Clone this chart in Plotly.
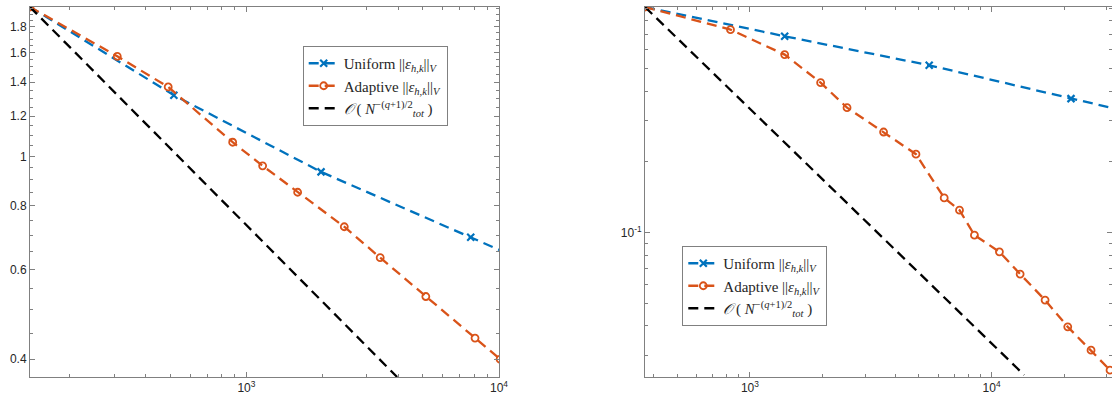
import plotly.graph_objects as go

# ---- data ----
left_uniform_N = [139, 516, 1974, 7727, 30800]
left_uniform_err = [1.967, 1.32, 0.933, 0.694, 0.514]
left_adapt_N = [139, 308, 490, 882, 1159, 1595, 2440, 3385, 5132, 8037, 10100]
left_adapt_err = [1.967, 1.574, 1.370, 1.067, 0.959, 0.851, 0.728, 0.633, 0.531, 0.440, 0.400]
left_ref_N = [139, 3950]
left_ref_err = [1.967, 0.369]

right_uniform_N = [368, 1392, 5516, 21300, 84000]
right_uniform_err = [0.914, 0.686, 0.516, 0.372, 0.268]
right_adapt_N = [368, 831, 1392, 1961, 2522, 3572, 4863, 6364, 7363, 8489,
                 10770, 13120, 16640, 20650, 25780, 30900]
right_adapt_err = [0.914, 0.732, 0.573, 0.435, 0.3405, 0.268, 0.2156, 0.1404, 0.1245,
                   0.0974, 0.0827, 0.0665, 0.0515, 0.0396, 0.0315, 0.0259]
right_ref_N = [368, 13630]
right_ref_err = [0.914, 0.0247]

labels = ["Uniform ||<i>ε</i><sub><i>h,k</i></sub>||<sub><i>V</i></sub>",
          "Adaptive ||<i>ε</i><sub><i>h,k</i></sub>||<sub><i>V</i></sub>",
          "<i>𝒪</i> ( <i>N</i><sup>−(<i>q</i>+1)/2</sup><sub><i>tot</i></sub> )"]

x_major_vals = [1e3, 1e4]
x_major_text = ["10<sup>3</sup>", "10<sup>4</sup>"]
left_y_vals = [0.4, 0.6, 0.8, 1, 1.2, 1.4, 1.6, 1.8]
left_y_text = ["0.4", "0.6", "0.8", "1", "1.2", "1.4", "1.6", "1.8"]
right_y_vals = [0.1]
right_y_text = ["10<sup>-1</sup>"]

BLUE = "#0072BD"
ORANGE = "#D95319"
DASH = "10px,6px"
SERIF = "Liberation Serif"

W, H = 1112, 404
fig = go.Figure()

def add_set(xa, ya, legend, uN, uE, aN, aE, rN, rE):
    fig.add_trace(go.Scatter(x=uN, y=uE, mode="lines+markers", name=labels[0],
                             xaxis=xa, yaxis=ya, legend=legend,
                             line=dict(color=BLUE, width=2.3, dash=DASH),
                             marker=dict(symbol="x-thin", size=7, line=dict(color=BLUE, width=2.2))))
    fig.add_trace(go.Scatter(x=aN, y=aE, mode="lines+markers", name=labels[1],
                             xaxis=xa, yaxis=ya, legend=legend,
                             line=dict(color=ORANGE, width=2.3, dash=DASH),
                             marker=dict(symbol="circle-open", size=7, color=ORANGE,
                                         line=dict(color=ORANGE, width=1.8))))
    fig.add_trace(go.Scatter(x=rN, y=rE, mode="lines", name=labels[2],
                             xaxis=xa, yaxis=ya, legend=legend,
                             line=dict(color="black", width=2.3, dash=DASH)))

add_set("x", "y", "legend", left_uniform_N, left_uniform_err, left_adapt_N, left_adapt_err,
        left_ref_N, left_ref_err)
add_set("x2", "y2", "legend2", right_uniform_N, right_uniform_err, right_adapt_N, right_adapt_err,
        right_ref_N, right_ref_err)

tickfont = dict(family="Liberation Sans, Arial, sans-serif", size=12, color="#262626")
axis_common = dict(type="log", showline=True, linecolor="#808080", linewidth=1, mirror="allticks",
                   ticks="inside", ticklen=5, tickcolor="#808080", showgrid=False, zeroline=False,
                   tickfont=tickfont, automargin=False)

minor_lx = [200, 300, 400, 500, 600, 700, 800, 900, 2000, 3000, 4000, 5000, 6000, 7000, 8000, 9000]
minor_ly = [round(0.4 + 0.05 * i, 2) for i in range(32)]
minor_rx = [400, 500, 600, 700, 800, 900, 2000, 3000, 4000, 5000, 6000, 7000, 8000, 9000, 20000, 30000]
minor_ry = [0.03, 0.04, 0.05, 0.06, 0.07, 0.08, 0.09, 0.2, 0.3, 0.4, 0.5, 0.6, 0.7, 0.8, 0.9]

def minor(vals):
    return dict(tickvals=vals, ticks="inside", ticklen=3, tickcolor="#808080")

legend_font = dict(family=SERIF, size=15, color="#262626")

fig.update_layout(
    width=W, height=H, margin=dict(l=0, r=0, t=0, b=0),
    paper_bgcolor="white", plot_bgcolor="white",
    xaxis=dict(domain=[30 / W, 499 / W], range=[2.143, 4.0], tickvals=x_major_vals,
               ticktext=x_major_text, minor=minor(minor_lx), anchor="y", **axis_common),
    yaxis=dict(domain=[27 / H, 397 / H], range=[-0.433, 0.2938], tickvals=left_y_vals,
               ticktext=left_y_text, minor=minor(minor_ly), anchor="x", **axis_common),
    xaxis2=dict(domain=[645 / W, 1.0], range=[2.5658, 4.498], tickvals=x_major_vals,
                ticktext=x_major_text, minor=minor(minor_rx), anchor="y2", **axis_common),
    yaxis2=dict(domain=[27 / H, 397 / H], range=[-1.616, -0.039], tickvals=right_y_vals,
                ticktext=right_y_text, minor=minor(minor_ry), anchor="x2", **axis_common),
    legend=dict(x=302.7 / W, y=1 - 46 / H, xanchor="left", yanchor="top",
                bgcolor="white", bordercolor="#808080", borderwidth=1,
                font=legend_font, tracegroupgap=0, itemwidth=30),
    legend2=dict(x=682.3 / W, y=1 - 246 / H, xanchor="left", yanchor="top",
                 bgcolor="white", bordercolor="#808080", borderwidth=1,
                 font=legend_font, tracegroupgap=0, itemwidth=30),
    showlegend=True,
)

fig.write_html("out.html")
